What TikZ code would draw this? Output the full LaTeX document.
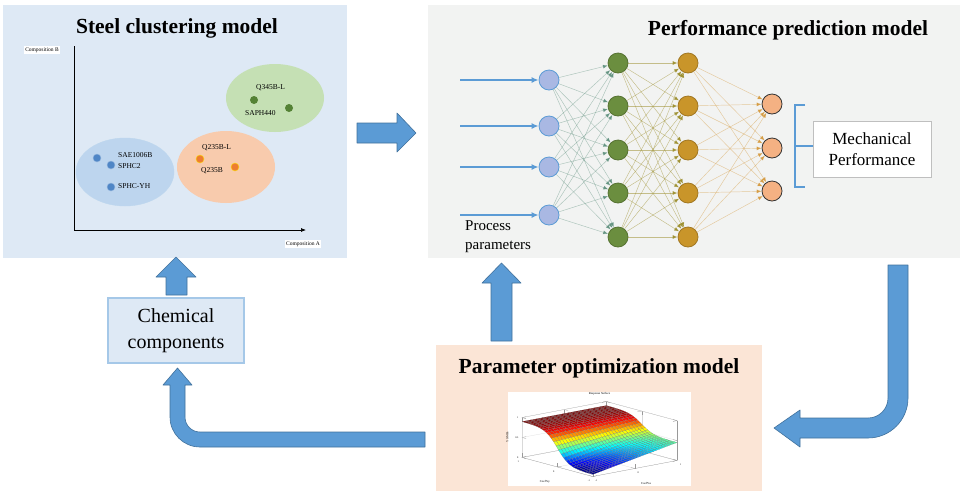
\documentclass[tikz,border=0pt]{standalone}
\usepackage{fontspec}
\setmainfont{Liberation Serif}
\usepackage{pgfplots}
\pgfplotsset{compat=1.18}
\usetikzlibrary{arrows.meta}

\definecolor{panelblue}{HTML}{DEE9F5}
\definecolor{panelgray}{HTML}{F2F3F2}
\definecolor{panelpeach}{HTML}{FBE5D6}
\definecolor{arrowblue}{HTML}{5B9BD5}
\definecolor{arrowedge}{HTML}{41719C}
\definecolor{clublue}{HTML}{BDD5EE}
\definecolor{cluorange}{HTML}{F8CBAD}
\definecolor{clugreen}{HTML}{C5E0B4}
\definecolor{dotblue}{HTML}{4F86C6}
\definecolor{dotorange}{HTML}{ED7D31}
\definecolor{dotgreen}{HTML}{548235}
\definecolor{nnin}{HTML}{A9B8E3}
\definecolor{nngreen}{HTML}{6B8E3F}
\definecolor{nngold}{HTML}{C9952A}
\definecolor{nnout}{HTML}{F4B183}

\tikzset{
  paneltitle/.style={font=\fontsize{21.5}{24}\selectfont\bfseries},
  bigarrow/.style={fill=arrowblue, draw=arrowedge, line width=0.6pt, line join=round},
  clutext/.style={font=\fontsize{7.5}{9}\selectfont, anchor=west, inner sep=0pt},
  axistext/.style={font=\fontsize{5.5}{6}\selectfont, fill=white, inner sep=1.5pt},
  cludot/.style={circle, inner sep=0pt, minimum size=8pt},
  neuron/.style={circle, inner sep=0pt, minimum size=20pt, line width=0.8pt},
  inneuron/.style={neuron, fill=nnin, draw=arrowblue},
  aneuron/.style={neuron, fill=nngreen, draw=nngreen!80!black},
  bneuron/.style={neuron, fill=nngold, draw=nngold!80!black},
  outneuron/.style={neuron, fill=nnout, draw=black!80},
  linkA/.style={draw=arrowblue!45!nngreen, draw opacity=0.5, line width=0.45pt, -{Latex[length=5pt,width=4pt]}},
  linkB/.style={draw=nngreen!45!nngold, draw opacity=0.55, line width=0.45pt, -{Latex[length=5pt,width=4pt]}},
  linkC/.style={draw=nngold!70!nnout, draw opacity=0.5, line width=0.45pt, -{Latex[length=5pt,width=4pt]}},
  feed/.style={draw=arrowblue, line width=1.8pt, -{Latex[length=7pt,width=6pt]}},
}

\begin{document}
\begin{tikzpicture}[x=1pt, y=-1pt]
  \useasboundingbox (0,0) rectangle (963,491);

  % panels
  \fill[panelblue] (3,5) rectangle (347,258);
  \fill[panelgray] (428,5) rectangle (960,258);
  \fill[panelpeach] (436,345) rectangle (762,491);

  % ---- steel clustering ----
  \node[paneltitle] (tclu) at (177,28) {Steel clustering model};
  \coordinate (orig) at (74,230);
  \coordinate (yend) at (74,46);
  \coordinate (xend) at (306,230);
  \draw[line width=0.7pt] (yend) -- (orig);
  \draw[line width=0.7pt, -{Latex[length=5pt,width=4pt]}] (orig) -- (xend);
  \node[axistext] (labB) at (42,50) {Composition B};
  \node[axistext] (labA) at (303,244) {Composition A};

  \fill[clublue, draw=arrowblue!40] (125,172) ellipse [x radius=49, y radius=34];
  \fill[cluorange] (226,167) ellipse [x radius=49, y radius=36];
  \fill[clugreen] (275,98) ellipse [x radius=49, y radius=34];

  \node[cludot, fill=dotblue, draw=dotblue!60] (sae) at (97,158) {};
  \node[cludot, fill=dotblue, draw=dotblue!60] (sp2) at (111,165) {};
  \node[cludot, fill=dotblue, draw=dotblue!60] (spy) at (111,187) {};
  \node[clutext] (tsae) at (118,155) {SAE1006B};
  \node[clutext] (tsp2) at (118,166) {SPHC2};
  \node[clutext] (tspy) at (118,186) {SPHC-YH};

  \node[cludot, fill=dotorange, draw=yellow!80!orange] (qbl) at (200,159) {};
  \node[cludot, fill=dotorange, draw=yellow!80!orange] (qb) at (235,167) {};
  \node[clutext] (tqbl) at (202,148) {Q235B-L};
  \node[clutext] (tqb) at (201,171) {Q235B};

  \node[cludot, fill=dotgreen] (q345) at (254,100) {};
  \node[cludot, fill=dotgreen] (sap) at (289,108) {};
  \node[clutext] (tq345) at (256,88) {Q345B-L};
  \node[clutext] (tsap) at (245,113) {SAPH440};

  % ---- performance prediction ----
  \node[paneltitle] (tperf) at (788,30) {Performance prediction model};

  \foreach \y [count=\i] in {80,126,167,215}
    \node[inneuron] (in\i) at (549,\y) {};
  \foreach \y [count=\i] in {63,106,150,193,237} {
    \node[aneuron] (ha\i) at (618,\y) {};
    \node[bneuron] (hb\i) at (688,\y) {};
  }
  \foreach \y [count=\i] in {104,148,191}
    \node[outneuron] (out\i) at (772,\y) {};

  \foreach \i in {1,...,4}
    \foreach \j in {1,...,5}
      \draw[linkA] (in\i) -- (ha\j);
  \foreach \i in {1,...,5}
    \foreach \j in {1,...,5}
      \draw[linkB] (ha\i) -- (hb\j);
  \foreach \i in {1,...,5}
    \foreach \j in {1,...,3}
      \draw[linkC] (hb\i) -- (out\j);

  \foreach \i in {1,...,4} {
    \coordinate (src\i) at (460,0 |- in\i);
    \draw[feed] (src\i) -- (in\i);
  }

  \node[font=\fontsize{15}{19}\selectfont, align=left, anchor=north west, inner sep=0pt]
    (tproc) at (465,220) {Process\\parameters};

  % bracket to the output label
  \coordinate (brt) at (795,105);
  \coordinate (brb) at (795,187);
  \coordinate (brm) at (795,146);
  \node[draw=black!25, fill=white, font=\fontsize{17}{21}\selectfont, align=center,
        minimum width=118pt, minimum height=56pt, inner sep=2pt]
    (mech) at (872,149) {Mechanical\\Performance};
  \draw[arrowblue, line width=1.8pt] ([xshift=10pt]brt) -- (brt) -- (brb) -- ([xshift=10pt]brb);
  \draw[arrowblue, line width=1.8pt] (brm) -- (mech.west |- brm);

  % ---- parameter optimization ----
  \node[paneltitle] (topt) at (599,368) {Parameter optimization model};
  \node[fill=white, minimum width=183pt, minimum height=94pt, inner sep=0pt] (surfbox) at (599.5,439) {};
  \begin{scope}[x=1cm, y=1cm]
  \begin{axis}[at={(surfbox.center)}, anchor=center,
      width=200pt, height=120pt,
      view={-40}{32},
      colormap/jet, grid=major, grid style={black!15, line width=0.2pt},
      axis line style={black!40, line width=0.2pt},
      tick style={black!40, line width=0.2pt},
      /pgf/number format/assume math mode=true,
      tick label style={font=\fontsize{2.5}{3}\selectfont},
      label style={font=\fontsize{3}{3}\selectfont},
      title style={font=\fontsize{3}{3}\selectfont, yshift=-3pt},
      title={Response Surface},
      xlabel={Coef\%x}, ylabel={Coef\%y}, zlabel={YS/MPa},
      domain=-1:1, y domain=-1:1, zmin=0, zmax=1,
      samples=30]
    \addplot3[surf, shader=faceted, faceted color=black!55, line width=0.05pt]
      {0.05 + 0.85/(1+exp(-6*y)) + 0.4*(x+1)/2*(1-1/(1+exp(-6*y)))};
  \end{axis}
  \end{scope}

  % ---- flow arrows ----
  % into the prediction panel
  \filldraw[bigarrow] (357,123) -- (397,123) -- (397,113) -- (416,133)
    -- (397,152) -- (397,143) -- (357,143) -- cycle;
  % optimization up to prediction
  \filldraw[bigarrow] (491,341) -- (491,283) -- (482,283) -- (501.5,263)
    -- (521,283) -- (512,283) -- (512,341) -- cycle;
  % chemical components up to clustering
  \filldraw[bigarrow] (166,295) -- (166,277) -- (156,277) -- (176,257)
    -- (196,277) -- (187,277) -- (187,295) -- cycle;
  % prediction back down to optimization
  \filldraw[bigarrow] (888,265) -- (908,265) -- (908,398)
    arc[start angle=0, end angle=90, radius=40] -- (800,438) -- (800,447)
    -- (774,428) -- (800,410) -- (800,418) -- (868,418)
    arc[start angle=90, end angle=0, radius=20] -- cycle;
  % optimization back to chemical components
  \filldraw[bigarrow] (425,447) -- (200,447)
    arc[start angle=90, end angle=180, radius=30] -- (170,385) -- (163,385)
    -- (177.5,368) -- (192,385) -- (185,385) -- (185,417)
    arc[start angle=180, end angle=90, radius=15] -- (425,432) -- cycle;

  \node[fill=panelblue, draw=arrowblue!55, line width=1.6pt, font=\fontsize{20}{26}\selectfont,
        align=center, minimum width=136pt, minimum height=65pt, inner sep=2pt]
    (chem) at (176,330.5) {Chemical\\components};
\end{tikzpicture}
\end{document}
